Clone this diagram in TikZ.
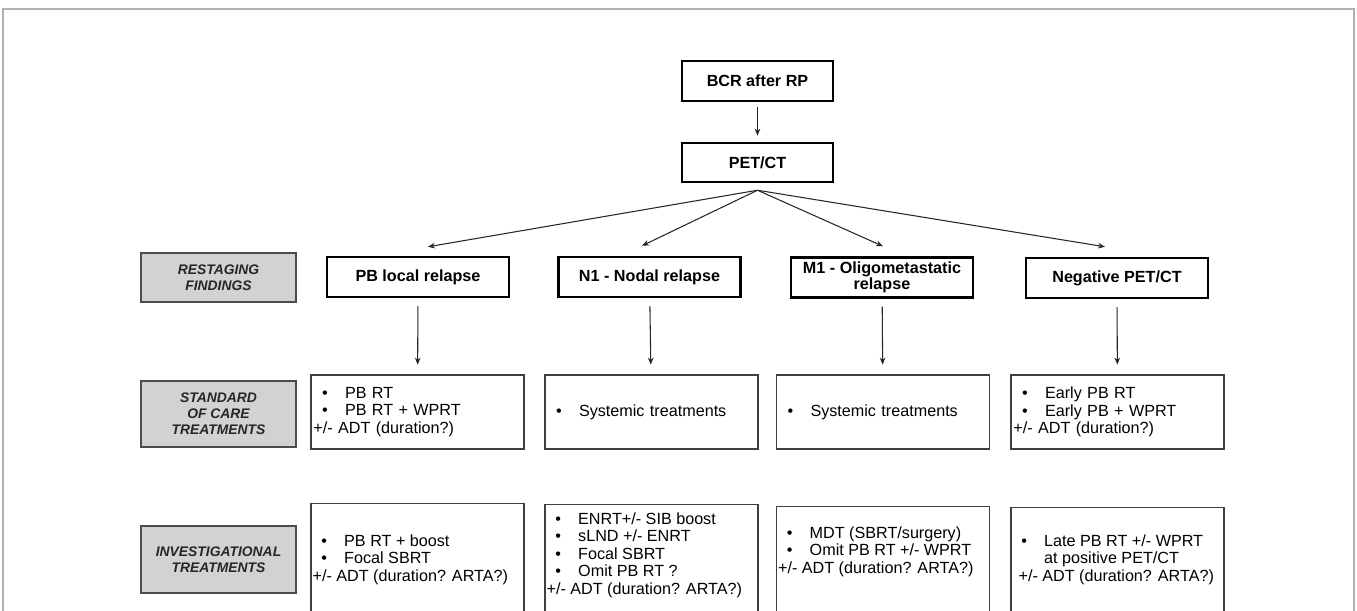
\documentclass[tikz,border=0pt]{standalone}
\usepackage{fontspec}
\setmainfont{Liberation Sans}
\usetikzlibrary{arrows.meta,calc}
\newcommand{\bitem}[1]{\makebox[18pt][l]{\hspace{5pt}\textbullet}#1}

\begin{document}
\begin{tikzpicture}[x=0.02cm,y=-0.02cm,>=Stealth,
  fbox/.style={draw,line width=1.4pt,font=\bfseries\fontsize{9.2}{8.8}\selectfont,align=center,
    minimum width=3.64cm,minimum height=0.8cm,inner sep=1pt},
  gbox/.style={draw=black!70,line width=0.8pt,fill=gray!35,text=black!85,align=center,
    font=\bfseries\itshape\fontsize{7.9}{9}\selectfont,minimum width=3.1cm},
  tbox/.style={draw=black!75,line width=0.8pt,minimum width=4.26cm},
  txt/.style={font=\fontsize{9.2}{10}\selectfont,align=left,inner sep=1.1pt},
  arr/.style={->,line width=0.6pt,black!85,>={Stealth[length=4pt,width=3.2pt]}}]
  \useasboundingbox (0,0) rectangle (1357,610);
  \clip (0,0) rectangle (1357,610);
  \draw[gray!60,line width=0.6pt] (3,640) |- (1354,9) -- (1354,640);

  \node[fbox,minimum width=3.02cm] (bcr) at (757.5,81) {BCR after RP};
  \node[fbox,minimum width=3.02cm,minimum height=0.78cm] (petct) at (757.5,162.5) {PET/CT};

  \node[gbox,minimum height=0.98cm] (restag) at (218.5,277.5) {RESTAGING\\FINDINGS};
  \node[gbox,minimum height=1.32cm] (stdcare) at (218.5,414) {STANDARD\\OF CARE\\TREATMENTS};
  \node[gbox,minimum height=1.34cm] (invest) at (218.5,559.5) {INVESTIGATIONAL\\TREATMENTS};

  \node[fbox] (pbfind) at (418,277) {PB local relapse};
  \node[fbox] (nfind) at (649.5,277) {N1 - Nodal relapse};
  \node[fbox] (mfind) at (882,277.5) {M1 - Oligometastatic\\relapse};
  \node[fbox] (negfind) at (1117,278) {Negative PET/CT};

  \node[tbox,txt,text width=118.5pt,minimum height=1.48cm] (pbsoc) at (417.5,412)
    {\bitem{PB RT}\\\bitem{PB RT + WPRT}\\+/- ADT (duration?)};
  \node[tbox,txt,text width=118.5pt,minimum height=1.48cm] (nsoc) at (651.5,412)
    {\bitem{Systemic treatments}};
  \node[tbox,txt,text width=118.5pt,minimum height=1.48cm] (msoc) at (883,412)
    {\bitem{Systemic treatments}};
  \node[tbox,txt,text width=118.5pt,minimum height=1.48cm] (negsoc) at (1117.5,412)
    {\bitem{Early PB RT}\\\bitem{Early PB + WPRT}\\+/- ADT (duration?)};

  \node[tbox,minimum height=2.6cm,anchor=north] (pbinv) at (417.5,503) {};
  \node[tbox,minimum height=2.6cm,anchor=north] (ninv) at (651.5,504) {};
  \node[tbox,minimum height=2.6cm,anchor=north] (minv) at (883,506) {};
  \node[tbox,minimum height=2.6cm,anchor=north] (neginv) at (1117.5,507) {};
  \node[txt,anchor=north west] (pbinvtxt) at ($(pbinv.north west)+(0,29)$)
    {\bitem{PB RT + boost}\\\bitem{Focal SBRT}\\+/- ADT (duration? ARTA?)};
  \node[txt,anchor=north west] (ninvtxt) at ($(ninv.north west)+(0,6)$)
    {\bitem{ENRT+/- SIB boost}\\\bitem{sLND +/- ENRT}\\\bitem{Focal SBRT}\\\bitem{Omit PB RT ?}\\+/- ADT (duration? ARTA?)};
  \node[txt,anchor=north west] (minvtxt) at ($(minv.north west)+(0,18)$)
    {\bitem{MDT (SBRT/surgery)}\\\bitem{Omit PB RT +/- WPRT}\\+/- ADT (duration? ARTA?)};
  \node[txt,anchor=north west] (neginvtxt) at ($(neginv.north west)+(0,25)$)
    {\bitem{Late PB RT +/- WPRT}\\\hspace*{18pt}at positive PET/CT\\\hspace*{3.4pt}+/- ADT (duration? ARTA?)};

  \draw[arr,shorten <=2.5pt,shorten >=3.5pt] (bcr) -- (petct);
  \draw[arr] ($(petct.south)+(0,7)$) -- ($(pbfind.north)+(10,-9)$);
  \draw[arr] ($(petct.south)+(0,7)$) -- ($(nfind.north)+(-7.5,-10)$);
  \draw[arr] ($(petct.south)+(0,7)$) -- ($(mfind.north)+(1,-10)$);
  \draw[arr] ($(petct.south)+(0,7)$) -- ($(negfind.north)+(-12,-10)$);
  \draw[arr,shorten <=4.5pt,shorten >=5.5pt] (pbfind) -- (pbsoc);
  \draw[arr,shorten <=4.5pt,shorten >=5.5pt] (nfind) -- (nsoc);
  \draw[arr,shorten <=4.5pt,shorten >=5.5pt] (mfind) -- (msoc);
  \draw[arr,shorten <=4.5pt,shorten >=5.5pt] (negfind) -- (negsoc);
\end{tikzpicture}
\end{document}
